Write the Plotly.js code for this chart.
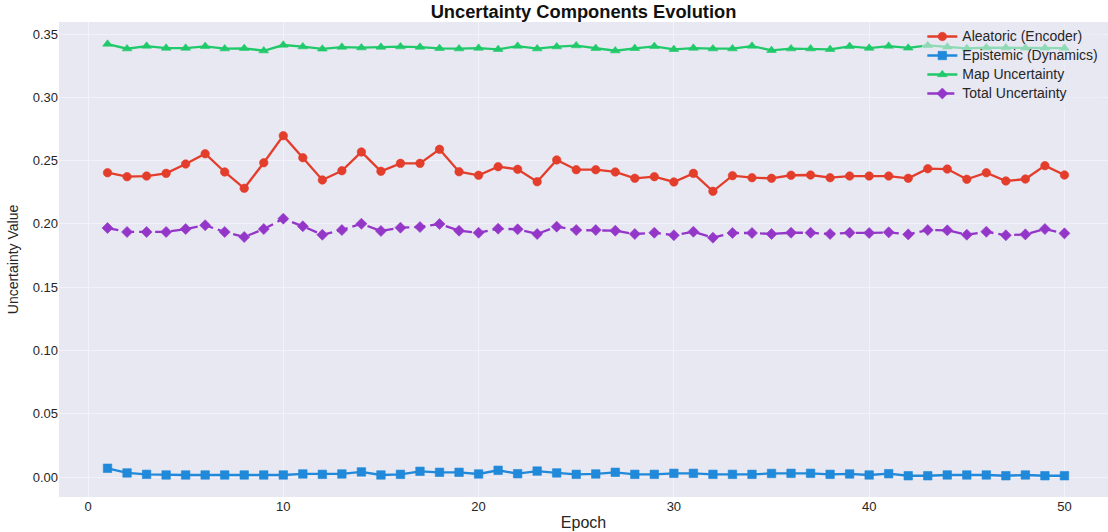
<!DOCTYPE html>
<html>
<head>
<meta charset="utf-8">
<script src="https://cdn.plot.ly/plotly-3.0.1.min.js"></script>
<style>
  html, body { margin: 0; padding: 0; background: #ffffff; }
  #chart { width: 1108px; height: 532px; }
</style>
</head>
<body>
<div id="chart"></div>
<script>
// Epochs 1..50
const epochs = [1,2,3,4,5,6,7,8,9,10,11,12,13,14,15,16,17,18,19,20,21,22,23,24,25,
                26,27,28,29,30,31,32,33,34,35,36,37,38,39,40,41,42,43,44,45,46,47,48,49,50];

const aleatoric = [0.2404,0.2373,0.2378,0.2399,0.2473,0.2554,0.2410,0.2281,0.2483,0.2697,
                   0.2523,0.2347,0.2420,0.2568,0.2415,0.2478,0.2478,0.2589,0.2412,0.2384,
                   0.2452,0.2431,0.2333,0.2505,0.2428,0.2428,0.2410,0.2360,0.2373,0.2331,
                   0.2399,0.2257,0.2381,0.2365,0.2360,0.2384,0.2386,0.2365,0.2378,0.2378,
                   0.2378,0.2360,0.2436,0.2433,0.2352,0.2404,0.2339,0.2354,0.2460,0.2386];

const epistemic = [0.0069,0.0032,0.0021,0.0016,0.0016,0.0016,0.0016,0.0016,0.0016,0.0016,
                   0.0024,0.0021,0.0024,0.0040,0.0016,0.0021,0.0045,0.0037,0.0037,0.0024,
                   0.0053,0.0026,0.0047,0.0032,0.0021,0.0024,0.0037,0.0021,0.0021,0.0029,
                   0.0029,0.0021,0.0021,0.0021,0.0028,0.0029,0.0029,0.0021,0.0024,0.0016,
                   0.0026,0.0010,0.0010,0.0016,0.0016,0.0016,0.0010,0.0016,0.0010,0.0010];

const mapUnc = [0.3421,0.3384,0.3405,0.3389,0.3389,0.3403,0.3384,0.3387,0.3368,0.3413,
                0.3400,0.3382,0.3397,0.3392,0.3397,0.3400,0.3397,0.3387,0.3384,0.3389,
                0.3379,0.3405,0.3384,0.3400,0.3408,0.3387,0.3368,0.3387,0.3403,0.3379,
                0.3389,0.3384,0.3384,0.3405,0.3371,0.3384,0.3384,0.3379,0.3403,0.3389,
                0.3405,0.3390,0.3410,0.3398,0.3386,0.3392,0.3392,0.3390,0.3390,0.3389];

const total = [0.1967,0.1936,0.1936,0.1936,0.1959,0.1989,0.1936,0.1896,0.1959,0.2041,
               0.1981,0.1914,0.1951,0.2001,0.1944,0.1970,0.1975,0.1999,0.1946,0.1930,
               0.1962,0.1957,0.1920,0.1978,0.1951,0.1951,0.1946,0.1920,0.1930,0.1910,
               0.1938,0.1891,0.1928,0.1928,0.1920,0.1930,0.1930,0.1920,0.1930,0.1928,
               0.1933,0.1917,0.1951,0.1949,0.1914,0.1938,0.1910,0.1917,0.1959,0.1925];

const seriesNames = ['Aleatoric (Encoder)', 'Epistemic (Dynamics)', 'Map Uncertainty', 'Total Uncertainty'];
const xTicks = [0, 10, 20, 30, 40, 50];
const yTicks = [0.00, 0.05, 0.10, 0.15, 0.20, 0.25, 0.30, 0.35];

// Legend rows are kept compact; the label text itself is sized up inline.
function legendLabel(name) {
  return '<span style="font-size:14px">' + name + '</span>';
}

function series(name, y, color, symbol, dash) {
  return {
    x: epochs, y: y, name: legendLabel(name), type: 'scatter', mode: 'lines+markers',
    line: { color: color, width: 2.3, dash: dash || 'solid' },
    marker: { color: color, symbol: symbol, size: 8.5, line: { width: 0.6, color: color } }
  };
}

const traces = [
  series(seriesNames[0], aleatoric, '#e33d2b', 'circle'),
  series(seriesNames[1], epistemic, '#2189d9', 'square'),
  series(seriesNames[2], mapUnc, '#20c96a', 'triangle-up'),
  series(seriesNames[3], total, '#9437c9', 'diamond', '11px,5px')
];

const font = 'Liberation Sans, Arial, sans-serif';

const layout = {
  width: 1108, height: 532,
  margin: { l: 59, r: 0, t: 22, b: 35 },
  paper_bgcolor: '#ffffff',
  plot_bgcolor: '#e8e8f3',
  font: { family: font, size: 13, color: '#262626' },
  title: {
    text: '<b>Uncertainty Components Evolution</b>',
    font: { family: font, size: 18.3, color: '#111111' },
    x: 0.5, xref: 'paper', y: 0.979, yref: 'container', yanchor: 'middle'
  },
  xaxis: {
    range: [-1.485, 52.23],
    tickvals: xTicks, ticktext: xTicks.map(String),
    showgrid: true, gridcolor: '#f2f2f8', gridwidth: 1,
    zeroline: false, showline: false, ticks: '',
    tickfont: { size: 13, color: '#262626' },
    title: { text: 'Epoch', font: { size: 16, color: '#262626' }, standoff: 3 }
  },
  yaxis: {
    range: [-0.0158, 0.3595],
    tickvals: yTicks, ticktext: yTicks.map(v => v.toFixed(2)),
    showgrid: true, gridcolor: '#f2f2f8', gridwidth: 1,
    zeroline: false, showline: false, ticks: '',
    tickfont: { size: 13, color: '#262626' },
    title: { text: 'Uncertainty Value', font: { size: 14, color: '#262626' }, standoff: 10 }
  },
  showlegend: true,
  legend: {
    x: 0.823, y: 1.0, xanchor: 'left', yanchor: 'top',
    bgcolor: 'rgba(232,232,243,0.55)', borderwidth: 0,
    font: { family: font, size: 11, color: '#262626' },
    tracegroupgap: 0, itemwidth: 30
  }
};

Plotly.newPlot('chart', traces, layout, { staticPlot: true, displayModeBar: false });
</script>
</body>
</html>
